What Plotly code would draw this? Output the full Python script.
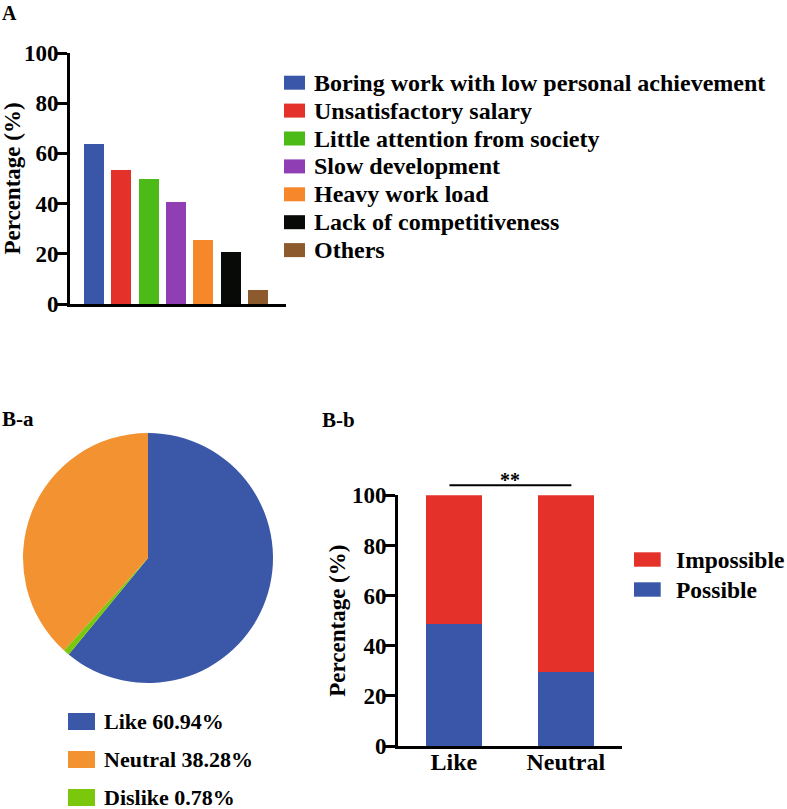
import plotly.graph_objects as go

# ---------------- data ----------------
reasons = ["Boring work with low personal achievement", "Unsatisfactory salary",
           "Little attention from society", "Slow development", "Heavy work load",
           "Lack of competitiveness", "Others"]
reason_pct = [63.9, 53.2, 49.9, 40.6, 25.5, 20.8, 5.7]
reason_colors = ["#3a56a8", "#e4312a", "#4cbb17", "#8f3eb4", "#f6872a", "#080a08", "#8c5a2c"]

attitudes = ["Like", "Neutral", "Dislike"]
attitude_pct = [60.94, 38.28, 0.78]
attitude_colors = ["#3a57a8", "#f39230", "#7ac70c"]

groups = ["Like", "Neutral"]
possible = [48.7, 29.4]
impossible = [51.3, 70.6]
outcome_names = ["Impossible", "Possible"]
outcome_colors = {"Impossible": "#e4312a", "Possible": "#3a56a8"}

y_ticks = [0, 20, 40, 60, 80, 100]

# ---------------- layout helpers ----------------
W, H = 787, 809
FAM = "Liberation Serif"


def px(x):
    return x / W


def py(y):
    return 1 - y / H


def font(size):
    return dict(family=FAM, size=size, color="black", weight="bold")


fig = go.Figure()

# Panel A bars
fig.add_trace(go.Bar(x=list(range(len(reasons))), y=reason_pct, marker=dict(color=reason_colors, line=dict(width=0)),
                     width=0.73, xaxis="x", yaxis="y", showlegend=False, hoverinfo="skip"))

# Panel B-a pie
fig.add_trace(go.Pie(labels=attitudes, values=attitude_pct, sort=False, direction="counterclockwise",
                     rotation=0, marker=dict(colors=attitude_colors, line=dict(width=0)),
                     textinfo="none", showlegend=False,
                     domain=dict(x=[px(23), px(273)], y=[py(683), py(433)])))

# Panel B-b stacked bars
fig.add_trace(go.Bar(x=list(range(len(groups))), y=possible, name="Possible", width=0.5,
                     marker=dict(color=outcome_colors["Possible"], line=dict(width=0)),
                     xaxis="x3", yaxis="y3", showlegend=False))
fig.add_trace(go.Bar(x=list(range(len(groups))), y=impossible, name="Impossible", width=0.5,
                     marker=dict(color=outcome_colors["Impossible"], line=dict(width=0)),
                     xaxis="x3", yaxis="y3", showlegend=False))

axis_common = dict(showline=True, linewidth=3, linecolor="black", showgrid=False, zeroline=False,
                   automargin=False)

fig.update_layout(
    template="none",
    width=W, height=H, margin=dict(l=0, r=0, t=0, b=0, autoexpand=False),
    paper_bgcolor="white", plot_bgcolor="white", barmode="stack", showlegend=False,
    font=dict(family=FAM, color="black"),
    xaxis=dict(domain=[px(70), px(286)], range=[-0.878, 7.025], showticklabels=False, ticks="",
               **axis_common),
    yaxis=dict(domain=[py(304), py(53)], range=[0, 100], tickvals=y_ticks, ticks="outside",
               ticklen=11, tickwidth=3, tickcolor="black", tickfont=font(23), ticklabelstandoff=-7,
               title=dict(text="Percentage (%)", font=font(23), standoff=0), **axis_common),
    xaxis3=dict(domain=[px(398), px(621.7)], range=[-0.5, 1.5], tickvals=list(range(len(groups))),
                ticktext=groups, ticks="", tickfont=font(24), anchor="y3", ticklabelstandoff=-8,
                **axis_common),
    yaxis3=dict(domain=[py(746), py(495.3)], range=[0, 100], tickvals=y_ticks, ticks="outside",
                ticklen=11, tickwidth=3, tickcolor="black", tickfont=font(23), anchor="x3",
                ticklabelstandoff=-7,
                title=dict(text="Percentage (%)", font=font(23), standoff=0), **axis_common),
)

shapes = []
annotations = []

# Panel labels
for txt, x, y, s in [("A", 0, 13, 20), ("B-a", 0, 418.5, 21), ("B-b", 320, 420, 21)]:
    annotations.append(dict(text=txt, x=px(x), y=py(y), xref="paper", yref="paper", xanchor="left",
                            yanchor="middle", showarrow=False, font=font(s)))

# Legend A
for i, (name, col) in enumerate(zip(reasons, reason_colors)):
    yc = 82.7 + i * 27.9
    shapes.append(dict(type="rect", xref="paper", yref="paper", x0=px(284), x1=px(305),
                       y0=py(yc + 7), y1=py(yc - 7), fillcolor=col, line=dict(width=0)))
    annotations.append(dict(text=name, x=px(312), y=py(yc), xref="paper", yref="paper", xanchor="left",
                            yanchor="middle", showarrow=False, font=font(24)))

# Legend B-a
for i, (name, val, col) in enumerate(zip(attitudes, attitude_pct, attitude_colors)):
    yc = 721.5 + i * 38
    shapes.append(dict(type="rect", xref="paper", yref="paper", x0=px(68), x1=px(95),
                       y0=py(yc + 8.5), y1=py(yc - 8.5), fillcolor=col, line=dict(width=0)))
    annotations.append(dict(text=f"{name} {val:.2f}%", x=px(102), y=py(yc), xref="paper", yref="paper",
                            xanchor="left", yanchor="middle", showarrow=False, font=font(22)))

# Legend B-b
for i, name in enumerate(outcome_names):
    yc = 559.5 + i * 30
    shapes.append(dict(type="rect", xref="paper", yref="paper", x0=px(634), x1=px(660.7),
                       y0=py(yc + 7.2), y1=py(yc - 7.2), fillcolor=outcome_colors[name], line=dict(width=0)))
    annotations.append(dict(text=name, x=px(674), y=py(yc), xref="paper", yref="paper", xanchor="left",
                            yanchor="middle", showarrow=False, font=font(23.5)))

# Significance bracket
shapes.append(dict(type="line", xref="x3", yref="y3 domain", x0=-0.04, x1=1.05, y0=1.04, y1=1.04,
                   line=dict(color="black", width=2)))
annotations.append(dict(text="**", x=0.5, y=1.04, xref="x3", yref="y3 domain", xanchor="center",
                        yanchor="bottom", yshift=-8, showarrow=False, font=font(20)))

fig.update_layout(shapes=shapes, annotations=annotations)
fig.write_html("out.html", config={"displayModeBar": False},
               post_script="document.body.style.margin='0px';document.body.style.overflow='hidden';")
